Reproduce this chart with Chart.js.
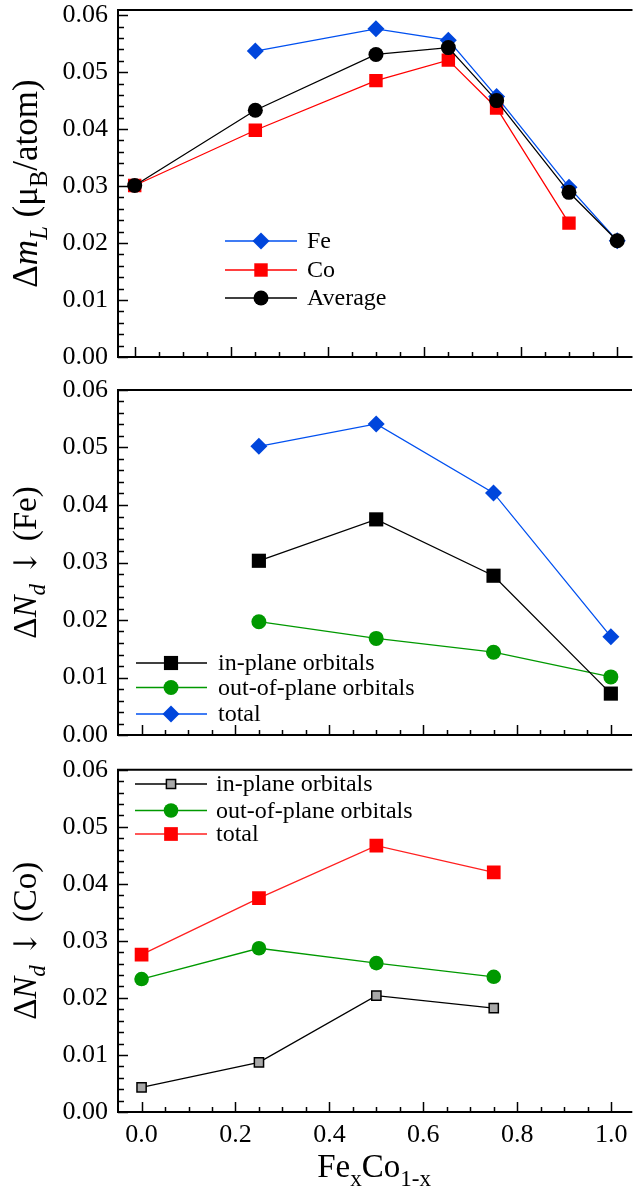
<!DOCTYPE html>
<html>
<head>
<meta charset="utf-8">
<script src="https://cdn.jsdelivr.net/npm/chart.js@4/dist/chart.umd.min.js"></script>
<style>
  html, body { margin: 0; padding: 0; background: #fff; }
  body { width: 640px; height: 1194px; position: relative; overflow: hidden; }
  .panel { position: absolute; left: 0; width: 640px; }
</style>
</head>
<body>
<div class="panel" style="top:0;height:380px"><canvas id="mlChart"></canvas></div>
<div class="panel" style="top:380px;height:380px"><canvas id="feChart"></canvas></div>
<div class="panel" style="top:760px;height:434px"><canvas id="coChart"></canvas></div>
<script>
// Orbital moment anisotropy (top panel)
const xMl = [0, 0.25, 0.5, 0.65, 0.75, 0.9, 1.0];
const mlFe = [null, 0.0537, 0.0576, 0.0556, 0.0457, 0.0298, 0.0204];
const mlCo = [0.0301, 0.0398, 0.0485, 0.0521, 0.0437, 0.0235, null];
const mlAvg = [0.0301, 0.0433, 0.0531, 0.0543, 0.0450, 0.0289, 0.0204];

// Minority d occupation, Fe and Co sites
const xNd = [0, 0.25, 0.5, 0.75, 1.0];
const feInPlane = [null, 0.0303, 0.0375, 0.0277, 0.0072];
const feOutPlane = [null, 0.0197, 0.0168, 0.0144, 0.0101];
const feTotal = [null, 0.0502, 0.0541, 0.0421, 0.0171];
const coInPlane = [0.0043, 0.0087, 0.0204, 0.0182, null];
const coOutPlane = [0.0233, 0.0287, 0.0261, 0.0237, null];
const coTotal = [0.0276, 0.0375, 0.0467, 0.0420, null];

const xTicks = [0, 0.2, 0.4, 0.6, 0.8, 1.0];
const yTicks = [0, 0.01, 0.02, 0.03, 0.04, 0.05, 0.06];

const FONT = "'Liberation Serif', 'Times New Roman', serif";
const BLUE = '#0046dc', RED = '#ff0000', GREEN = '#009900', BLACK = '#000000', GRAY = '#a8a8a8';

function points(xs, ys) {
  const out = [];
  xs.forEach((x, i) => { if (ys[i] !== null) out.push({ x: x, y: ys[i] }); });
  return out;
}

function series(label, xs, ys, color, style, radius, extra) {
  return Object.assign({
    label: label,
    data: points(xs, ys),
    borderColor: color,
    backgroundColor: color,
    borderWidth: 1.3,
    pointStyle: style,
    pointRadius: radius,
    pointHoverRadius: radius,
    pointBackgroundColor: color,
    pointBorderColor: color,
    pointBorderWidth: 0,
    tension: 0
  }, extra || {});
}

// marker drawing for the hand-placed legends
function marker(ctx, style, x, y, r, fill, stroke, bw) {
  ctx.beginPath();
  if (style === 'circle') {
    ctx.arc(x, y, r, 0, Math.PI * 2);
  } else if (style === 'rect') {
    const h = r * Math.SQRT1_2;
    ctx.rect(x - h, y - h, 2 * h, 2 * h);
  } else {
    ctx.moveTo(x, y - r); ctx.lineTo(x + r, y); ctx.lineTo(x, y + r); ctx.lineTo(x - r, y); ctx.closePath();
  }
  ctx.fillStyle = fill;
  ctx.fill();
  if (bw) { ctx.lineWidth = bw; ctx.strokeStyle = stroke; ctx.stroke(); }
}

function richText(ctx, parts, size) {
  let total = 0;
  parts.forEach(p => {
    p.fs = (p.sub ? 0.7 : 1) * (p.scale || 1) * size;
    p.font = (p.it ? 'italic ' : '') + p.fs + 'px ' + (p.family || FONT);
    ctx.font = p.font;
    p.w = ctx.measureText(p.t).width;
    total += p.w;
  });
  let x = -total / 2;
  parts.forEach(p => {
    ctx.font = p.font;
    ctx.fillText(p.t, x, p.sub ? size * 0.28 : (p.dy || 0));
    x += p.w;
  });
}

const panelDecor = {
  id: 'panelDecor',
  afterDraw(chart, args, o) {
    const ctx = chart.ctx, a = chart.chartArea;
    const xs = chart.scales.x, ys = chart.scales.y;
    ctx.save();
    ctx.strokeStyle = '#000';
    ctx.fillStyle = '#000';

    // frame: top, left, bottom
    ctx.lineWidth = 2;
    ctx.beginPath();
    ctx.moveTo(a.right + 2, a.top); ctx.lineTo(a.left, a.top);
    ctx.lineTo(a.left, a.bottom); ctx.lineTo(a.right + 2, a.bottom);
    ctx.stroke();

    // inward ticks
    ctx.lineWidth = 1.5;
    ctx.beginPath();
    for (let k = 0; k <= 30; k++) {
      const v = k * 0.002;
      if (v > ys.max + 1e-9) break;
      const py = Math.round(ys.getPixelForValue(v)) + 0.5;
      const len = k % 5 === 0 ? 10 : 6;
      ctx.moveTo(a.left, py); ctx.lineTo(a.left + len, py);
    }
    for (let k = 0; k <= 20; k++) {
      const v = k * 0.05;
      const px = Math.round(xs.getPixelForValue(v)) + 0.5;
      const len = k % 4 === 0 ? 10 : 5;
      ctx.moveTo(px, a.bottom); ctx.lineTo(px, a.bottom - len);
    }
    ctx.stroke();

    // y axis title
    ctx.save();
    ctx.translate(o.titleX, (a.top + a.bottom) / 2);
    ctx.rotate(-Math.PI / 2);
    ctx.textBaseline = 'alphabetic';
    richText(ctx, o.title, o.titleSize);
    ctx.restore();

    // x axis title
    if (o.xTitle) {
      ctx.save();
      ctx.translate((a.left + a.right) / 2, o.xTitleY);
      ctx.textBaseline = 'alphabetic';
      richText(ctx, o.xTitle, 33);
      ctx.restore();
    }

    // legend
    const lg = o.legend;
    lg.rows.forEach((row, i) => {
      const ds = chart.data.datasets[row];
      const y = lg.y[i];
      ctx.strokeStyle = ds.borderColor;
      ctx.lineWidth = 1.3;
      ctx.beginPath();
      ctx.moveTo(lg.x0, y); ctx.lineTo(lg.x1, y);
      ctx.stroke();
      marker(ctx, ds.pointStyle === 'rectRot' ? 'diamond' : ds.pointStyle, lg.mx, y, ds.pointRadius,
             ds.pointBackgroundColor, ds.pointBorderColor, ds.pointBorderWidth);
      ctx.fillStyle = '#000';
      ctx.font = '24px ' + FONT;
      ctx.textBaseline = 'middle';
      ctx.fillText(ds.label, lg.tx, y + 1);
    });
    ctx.restore();
  }
};

function makeChart(id, datasets, cfg) {
  return new Chart(document.getElementById(id), {
    type: 'line',
    data: { datasets: datasets },
    plugins: [panelDecor],
    options: {
      responsive: true,
      maintainAspectRatio: false,
      animation: false,
      events: [],
      layout: { padding: { top: cfg.top, left: 0, right: 0, bottom: 0 } },
      plugins: {
        legend: { display: false },
        tooltip: { enabled: false },
        panelDecor: cfg.decor
      },
      scales: {
        x: {
          type: 'linear',
          min: cfg.xMin,
          max: cfg.xMax,
          grid: { display: false, drawTicks: false },
          border: { display: false },
          afterBuildTicks: s => { s.ticks = xTicks.map(v => ({ value: v })); },
          afterFit: s => {
            s.height = cfg.xHeight;
            s.paddingLeft = 0; s.paddingRight = 0;
          },
          ticks: {
            display: cfg.xLabels,
            padding: 8,
            color: '#000',
            maxRotation: 0,
            font: { family: FONT, size: 26 },
            callback: v => v.toFixed(1)
          }
        },
        y: {
          type: 'linear',
          min: 0,
          max: cfg.yMax,
          grid: { display: false, drawTicks: false },
          border: { display: false },
          afterBuildTicks: s => { s.ticks = yTicks.map(v => ({ value: v })); },
          afterFit: s => {
            s.width = 118;
            s.paddingTop = 0; s.paddingBottom = 0;
          },
          ticks: {
            padding: 10,
            color: '#000',
            font: { family: FONT, size: 26 },
            callback: v => v.toFixed(2)
          }
        }
      }
    }
  });
}

const ARROW = { t: '\u2193', family: "'DejaVu Serif', serif", scale: 0.95 };

// top panel
makeChart('mlChart', [
  series('Average', xMl, mlAvg, BLACK, 'circle', 7.5, { order: 0 }),
  series('Fe', xMl, mlFe, BLUE, 'rectRot', 8.5, { order: 1, borderColor: '#0050f0' }),
  series('Co', xMl, mlCo, RED, 'rect', 9.5, { order: 2 })
], {
  top: 10, xHeight: 23, xMin: -0.0346, xMax: 1.0275, yMax: 0.0609, xLabels: false,
  decor: {
    titleX: 37,
    titleSize: 35,
    title: [{ t: '\u0394' }, { t: 'm', it: true }, { t: 'L', it: true, sub: true },
            { t: ' (\u03bc' }, { t: 'B', sub: true }, { t: '/atom)' }],
    legend: { rows: [1, 2, 0], y: [241, 270, 298], x0: 225, x1: 297, mx: 261, tx: 307 }
  }
});

// middle panel, Fe site
makeChart('feChart', [
  series('in-plane orbitals', xNd, feInPlane, BLACK, 'rect', 10),
  series('out-of-plane orbitals', xNd, feOutPlane, GREEN, 'circle', 7.5),
  series('total', xNd, feTotal, BLUE, 'rectRot', 8.5, { borderColor: '#0050f0' })
], {
  top: 7, xHeight: 25, xMin: -0.0502, xMax: 1.0408, yMax: 0.06, xLabels: false,
  decor: {
    titleX: 36,
    titleSize: 33,
    title: [{ t: '\u0394' }, { t: 'N', it: true }, { t: 'd', it: true, sub: true },
            { t: ' ' }, ARROW, { t: ' (Fe)' }],
    legend: { rows: [0, 1, 2], y: [283, 307.5, 334], x0: 136, x1: 207, mx: 171, tx: 218 }
  }
});

// bottom panel, Co site
makeChart('coChart', [
  series('in-plane orbitals', xNd, coInPlane, BLACK, 'rect', 6.5,
         { pointBackgroundColor: GRAY, pointBorderColor: BLACK, pointBorderWidth: 1.5 }),
  series('out-of-plane orbitals', xNd, coOutPlane, GREEN, 'circle', 7.3),
  series('total', xNd, coTotal, RED, 'rect', 9.7, { borderColor: '#ff2020' })
], {
  top: 5, xHeight: 82, xMin: -0.0502, xMax: 1.0408, yMax: 0.06, xLabels: true,
  decor: {
    titleX: 36,
    titleSize: 33,
    title: [{ t: '\u0394' }, { t: 'N', it: true }, { t: 'd', it: true, sub: true },
            { t: ' ' }, Object.assign({}, ARROW), { t: ' (Co)' }],
    xTitle: [{ t: 'Fe' }, { t: 'x', sub: true }, { t: 'Co' }, { t: '1-x', sub: true }],
    xTitleY: 417,
    legend: { rows: [0, 1, 2], y: [24, 50.5, 74], x0: 135, x1: 207, mx: 171, tx: 216 }
  }
});
</script>
</body>
</html>
